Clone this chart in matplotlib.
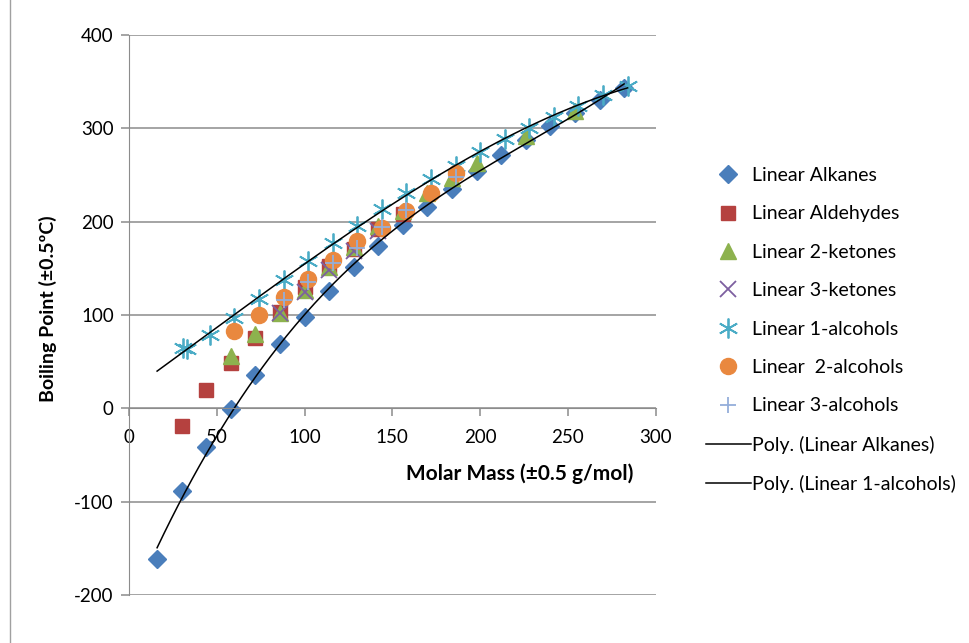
import numpy as np
import matplotlib
matplotlib.use("Agg")
import matplotlib.pyplot as plt
from matplotlib.lines import Line2D

plt.rcParams["font.family"] = ["Lato", "DejaVu Sans"]
plt.rcParams["axes.unicode_minus"] = False

# molar mass (g/mol) and boiling point (deg C) per series
alk_m = [16, 30, 44, 58, 72, 86, 100, 114, 128, 142, 156, 170, 184, 198, 212, 226, 240, 254, 268, 282]
alk_bp = [-162, -89, -42, -1, 36, 69, 98, 126, 151, 174, 196, 216, 235, 254, 271, 287, 302, 316, 330, 343]

ald_m = [30, 44, 58, 72, 86, 100, 114, 128, 142, 156]
ald_bp = [-19, 20, 48, 75, 103, 130, 152, 171, 192, 208]

k2_m = [58, 72, 86, 100, 114, 128, 142, 156, 170, 184, 198, 226, 254]
k2_bp = [56, 80, 102, 127, 151, 173, 195, 211, 231, 247, 263, 292, 319]

k3_m = [86, 100, 114, 128, 142]
k3_bp = [102, 125, 148, 168, 190]

a1_m = [31, 33, 46, 60, 74, 88, 102, 116, 130, 144, 158, 172, 186, 200, 214, 228, 242, 256, 270, 284]
a1_bp = [65, 64, 78, 97, 117, 137, 158, 177, 195, 213, 231, 246, 260, 275, 288, 300, 312, 324, 336, 345]

a2_m = [60, 74, 88, 102, 116, 130, 144, 158, 172, 186]
a2_bp = [83, 100, 119, 139, 159, 179, 193, 211, 231, 252]

a3_m = [88, 102, 116, 130, 144, 158, 186]
a3_bp = [116, 135, 156, 172, 194, 212, 248]

x_ticks = [0, 50, 100, 150, 200, 250, 300]
y_ticks = [-200, -100, 0, 100, 200, 300, 400]

fig = plt.figure(figsize=(9.7, 6.43), dpi=100)
ax = fig.add_axes([0.133, 0.0747, 0.543, 0.871])

ms = 11
ax.plot(alk_m, alk_bp, ls="none", marker="D", ms=ms * 0.85, color="#4A7EBB", label="Linear Alkanes")
ax.plot(ald_m, ald_bp, ls="none", marker="s", ms=ms * 0.95, color="#B5413F", label="Linear Aldehydes")
ax.plot(k2_m, k2_bp, ls="none", marker="^", ms=ms, color="#8DB24E", label="Linear 2-ketones")
ax.plot(k3_m, k3_bp, ls="none", marker="x", ms=ms, mew=1.3, color="#7D5FA0", label="Linear 3-ketones")
ax.plot(a1_m, a1_bp, ls="none", marker=(6, 2, 0), ms=ms * 1.3, mew=1.3, color="#4BACC6", label="Linear 1-alcohols")
ax.plot(a2_m, a2_bp, ls="none", marker="o", ms=ms * 1.05, color="#E9883F", label="Linear  2-alcohols")
ax.plot(a3_m, a3_bp, ls="none", marker="+", ms=ms * 1.1, mew=1.3, color="#94AEDA", label="Linear 3-alcohols")

# polynomial trendlines
c_alk = np.polyfit(alk_m, alk_bp, 3)
xs = np.linspace(min(alk_m), max(alk_m), 200)
ax.plot(xs, np.polyval(c_alk, xs), color="black", lw=1.1, label="Poly. (Linear Alkanes)")
c_a1 = np.polyfit(a1_m, a1_bp, 3)
xs = np.linspace(16, max(a1_m), 200)
ax.plot(xs, np.polyval(c_a1, xs), color="black", lw=1.1, label="Poly. (Linear 1-alcohols)")

ax.set_xlim(0, 300)
ax.set_ylim(-200, 400)
ax.set_xticks(x_ticks)
ax.set_yticks(y_ticks)
ax.yaxis.grid(True, color="#8C8C8C", lw=1.1)
ax.set_axisbelow(True)
for s in ["top", "right"]:
    ax.spines[s].set_visible(False)
ax.spines["bottom"].set_position(("data", 0))
ax.spines["bottom"].set_color("#8C8C8C")
ax.spines["left"].set_color("#8C8C8C")
ax.tick_params(axis="both", colors="#8C8C8C", labelcolor="black", labelsize=13.5, length=6, width=1.1)
ax.tick_params(axis="y", pad=5)
ax.tick_params(axis="x", pad=9)

ax.text(0.742, 0.216, "Molar Mass (±0.5 g/mol)", transform=ax.transAxes,
        ha="center", va="center", fontsize=15, fontweight="bold")
fig.text(48 / 970, 0.52, "Boiling Point (±0.5ºC)", rotation=90, ha="center", va="center",
         fontsize=14, fontweight="bold")

leg = ax.legend(loc="upper left", bbox_to_anchor=(1.08, 0.778), frameon=False, fontsize=14,
                labelspacing=1.1, handlelength=2.35, handletextpad=0.05, borderaxespad=0)

fig.add_artist(Line2D([10 / 970, 10 / 970], [0, 1], color="#A0A0A0", lw=1))

fig.savefig("out.png", dpi=100)
